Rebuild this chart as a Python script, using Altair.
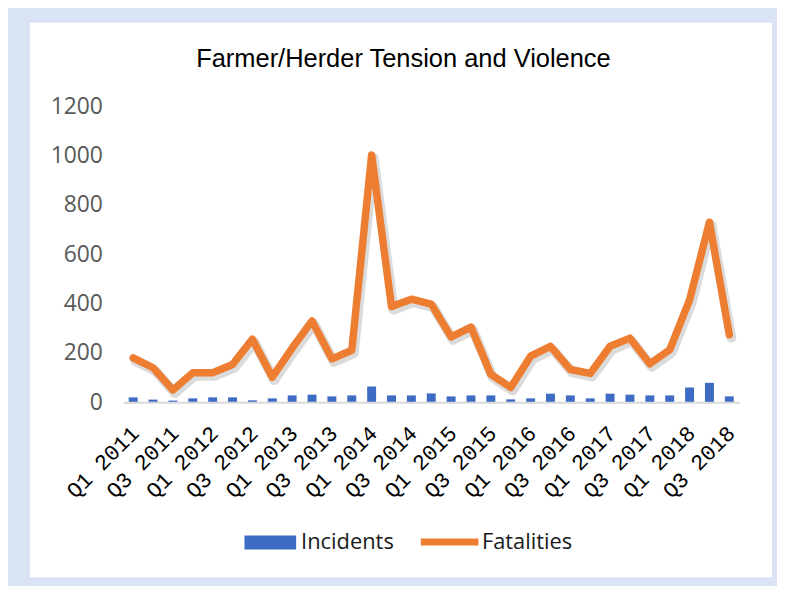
import altair as alt
import pandas as pd

quarters = [
    "Q1 2011", "Q2 2011", "Q3 2011", "Q4 2011",
    "Q1 2012", "Q2 2012", "Q3 2012", "Q4 2012",
    "Q1 2013", "Q2 2013", "Q3 2013", "Q4 2013",
    "Q1 2014", "Q2 2014", "Q3 2014", "Q4 2014",
    "Q1 2015", "Q2 2015", "Q3 2015", "Q4 2015",
    "Q1 2016", "Q2 2016", "Q3 2016", "Q4 2016",
    "Q1 2017", "Q2 2017", "Q3 2017", "Q4 2017",
    "Q1 2018", "Q2 2018", "Q3 2018",
]
incidents = [20, 11, 7, 16, 20, 20, 8, 16, 28, 31, 24, 28, 64, 28, 28, 36,
             24, 28, 28, 12, 16, 35, 28, 16, 35, 31, 28, 28, 60, 79, 24]
fatalities = [180, 140, 50, 120, 120, 153, 256, 102, 220, 330, 176, 211, 1002, 388, 418, 398,
              265, 305, 113, 60, 187, 227, 133, 117, 227, 260, 156, 213, 415, 730, 274]
tick_labels = quarters[::2]
y_ticks = [0, 200, 400, 600, 800, 1000, 1200]

df = pd.DataFrame({"quarter": quarters, "incidents": incidents, "fatalities": fatalities})

W, H = 620, 298
PAD = {"left": 116, "top": 97, "right": 38, "bottom": 183}

x_enc = alt.X(
    "quarter:N",
    sort=quarters,
    scale=alt.Scale(paddingInner=0.55, paddingOuter=0.275),
    axis=alt.Axis(
        values=tick_labels, title=None, ticks=False, grid=False,
        domainColor="#D9D9D9", domainWidth=2,
        labelAngle=-45, labelAlign="right", labelBaseline="top",
        labelFont="Liberation Mono", labelFontSize=22, labelColor="#000000",
        labelPadding=20, labelOffset=-5, zindex=1,
    ),
)
y_axis = alt.Axis(
    values=y_ticks, format="d", title=None, ticks=False, grid=False, domain=False,
    labelFont="Open Sans", labelFontSize=23, labelColor="#595959",
    labelPadding=21, zindex=1,
)
y_scale = alt.Scale(domain=[0, 1200], nice=False)

panel = alt.Chart(pd.DataFrame({"p": [0]})).mark_rect(fill="white").encode(
    x=alt.value(-94), x2=alt.value(653), y=alt.value(-84), y2=alt.value(474)
)

base = alt.Chart(df).transform_calculate(s_inc="'Incidents'", s_fat="'Fatalities'")

bars = base.mark_bar().encode(
    x=x_enc,
    y=alt.Y("incidents:Q", scale=y_scale, axis=y_axis),
    fill=alt.Fill(
        "s_inc:N",
        scale=alt.Scale(domain=["Incidents"], range=["#3E6BC4"]),
        legend=alt.Legend(
            orient="none", legendX=122, legendY=413, title=None,
            symbolType="M-1,-0.27L1,-0.27L1,0.27L-1,0.27Z", symbolSize=2704,
            symbolStrokeWidth=0, symbolOpacity=1,
            labelFont="Open Sans", labelFontSize=22, labelColor="#1A1A1A",
            labelOffset=5, padding=0,
        ),
    ),
)

shadow = base.mark_line(color="#7F7F7F", opacity=0.28, strokeWidth=10,
                        strokeJoin="round", strokeCap="round", xOffset=2, yOffset=3).encode(
    x=x_enc,
    y=alt.Y("fatalities:Q", scale=y_scale, axis=y_axis),
)

line = base.mark_line(strokeWidth=7.5, strokeJoin="round", strokeCap="round").encode(
    x=x_enc,
    y=alt.Y("fatalities:Q", scale=y_scale, axis=y_axis),
    stroke=alt.Stroke(
        "s_fat:N",
        scale=alt.Scale(domain=["Fatalities"], range=["#ED7D31"]),
        legend=alt.Legend(
            orient="none", legendX=296, legendY=406, title=None,
            symbolType="stroke", symbolSize=3364, symbolStrokeWidth=7,
            labelFont="Open Sans", labelFontSize=22, labelColor="#1A1A1A",
            labelOffset=0, padding=0,
        ),
    ),
)

chart = alt.layer(panel, bars, shadow, line).properties(
    width=W,
    height=H,
    padding=PAD,
    autosize="none",
    background="#DAE3F3",
    title=alt.TitleParams(
        "Farmer/Herder Tension and Violence",
        font="Liberation Sans", fontSize=25.6, fontWeight="normal", color="#000000",
        anchor="middle", frame="group", dx=-28, offset=-70, baseline="alphabetic",
    ),
).configure_view(stroke=None)

chart.save("out.html", embed_options={"renderer": "svg", "actions": False})
